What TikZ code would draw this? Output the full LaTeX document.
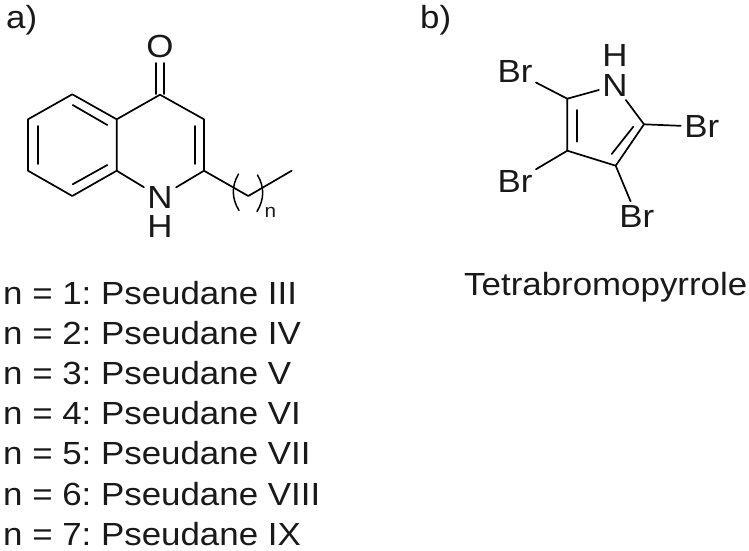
\documentclass[tikz,border=0pt]{standalone}
\usepackage{fontspec}
\setmainfont[FakeStretch=1.09]{Liberation Sans}
\frenchspacing
\tikzset{
	bond/.style={line width=1.7pt, line cap=round, line join=round, black},
	atom/.style={font=\fontsize{32}{33}\selectfont, inner sep=0pt, outer sep=3.5pt, text=black!90},
	caption/.style={font=\fontsize{32}{33}\selectfont, inner sep=0pt, anchor=base west, text=black!90},
	sub/.style={font=\fontsize{19}{19}\selectfont, inner sep=0pt, text=black!90}
}
\begin{document}
\begin{tikzpicture}[x=1pt, y=-1pt]
	\useasboundingbox (0,0) rectangle (749,550);
	% panel labels
	\node[caption] (parta) at (6,28) {a)};
	\node[caption] (partb) at (420,28) {b)};
	% quinolone carbons
	\coordinate (c5) at (72.3,94.3);
	\coordinate (c4a) at (116.7,119.3);
	\coordinate (c8a) at (116.7,170.7);
	\coordinate (c8) at (72.3,196);
	\coordinate (c7) at (28,170.7);
	\coordinate (c6) at (28,119.3);
	\coordinate (c4) at (160,94.7);
	\coordinate (c3) at (204,119.3);
	\coordinate (c2) at (204,170.7);
	\coordinate (ch2) at (248.3,196);
	\coordinate (ch3) at (291.7,170.7);
	\node[atom] (oxy) at (160,46) {O};
	\node[atom] (nit) at (160,197) {N};
	\node[atom] (hyd) at (160,226.5) {H};
	% quinolone bonds
	\draw[bond] (c4a) -- (c5) -- (c6) -- (c7) -- (c8) -- (c8a) -- (c4a) -- (c4) -- (c3) -- (c2) -- (ch2) -- (ch3);
	\draw[bond] (c8a) -- (nit);
	\draw[bond] (c2) -- (nit);
	% inner lines of the double bonds
	\coordinate (d1a) at (72.7,105);
	\coordinate (d1b) at (107.3,125);
	\coordinate (d2a) at (37.7,126);
	\coordinate (d2b) at (37.7,164);
	\coordinate (d3a) at (72.7,184.3);
	\coordinate (d3b) at (107.3,165);
	\coordinate (d4a) at (195,126);
	\coordinate (d4b) at (195,164);
	\draw[bond] (d1a) -- (d1b);
	\draw[bond] (d2a) -- (d2b);
	\draw[bond] (d3a) -- (d3b);
	\draw[bond] (d4a) -- (d4b);
	% carbonyl
	\coordinate (co1) at (156,94);
	\coordinate (co2) at (164.3,94);
	\coordinate (ox1) at (156,63);
	\coordinate (ox2) at (164.3,63);
	\draw[bond] (co1) -- (ox1);
	\draw[bond] (co2) -- (ox2);
	% repeat unit
	\coordinate (pl1) at (238.5,174);
	\coordinate (pl2) at (239,210.5);
	\coordinate (pr1) at (257.5,175);
	\coordinate (pr2) at (257,211.5);
	\draw[bond, line width=1.5pt] (pl1) .. controls (231.5,186) and (231.5,198) .. (pl2);
	\draw[bond, line width=1.5pt] (pr1) .. controls (264.5,187) and (264.5,199) .. (pr2);
	\node[sub] (rep) at (270.5,212) {n};
	% pseudane list
	\foreach \i/\name [count=\k from 0] in {1/III,2/IV,3/V,4/VI,5/VII,6/VIII,7/IX}
		\node[caption] (line\i) at (3,304+40.2*\k) {n = \i: Pseudane \name};
	% pyrrole
	\coordinate (r5) at (567.3,98.7);
	\coordinate (r4) at (567.3,150.7);
	\coordinate (r3) at (615.7,165.7);
	\coordinate (r2) at (644,124.3);
	\node[atom] (rnit) at (615,85.5) {N};
	\node[atom] (rhyd) at (615,55.5) {H};
	\node[atom] (br1) at (515,71.7) {Br};
	\node[atom] (br2) at (701.7,126.7) {Br};
	\node[atom] (br3) at (515,181.7) {Br};
	\node[atom] (br4) at (636.7,216) {Br};
	\draw[bond] (rnit) -- (r5) -- (r4) -- (r3) -- (r2) -- (rnit);
	\draw[bond] (r5) -- (br1);
	\draw[bond] (r2) -- (br2);
	\draw[bond] (r4) -- (br3);
	\draw[bond] (r3) -- (br4);
	\coordinate (e1a) at (576.7,110);
	\coordinate (e1b) at (576.7,141.7);
	\coordinate (e2a) at (633.3,126.7);
	\coordinate (e2b) at (611.7,154);
	\draw[bond] (e1a) -- (e1b);
	\draw[bond] (e2a) -- (e2b);
	\node[caption] (title) at (464,295) {Tetrabromopyrrole};
\end{tikzpicture}
\end{document}
